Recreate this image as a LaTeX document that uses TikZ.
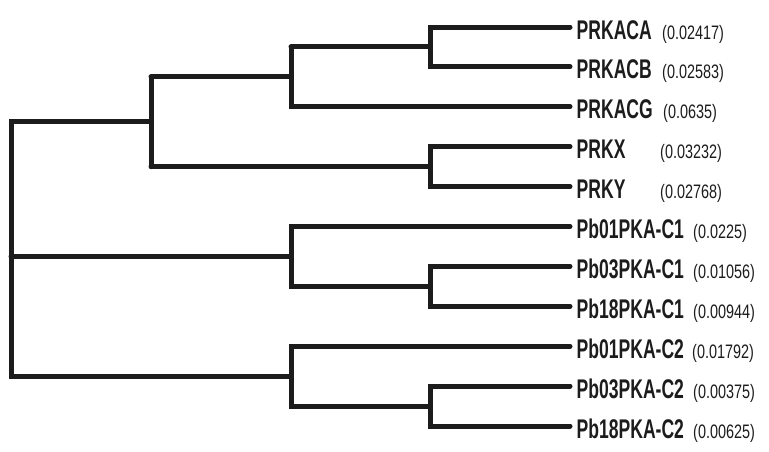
\documentclass[tikz,border=0pt]{standalone}
\usepackage{fontspec}
\newfontfamily\namefont[FakeStretch=0.65]{Liberation Sans Bold}
\newfontfamily\valfont[FakeStretch=0.74]{Liberation Sans}
\definecolor{ink}{HTML}{1C1C1C}
\begin{document}
\begin{tikzpicture}[x=1pt,y=-1pt,
  branch/.style={draw=ink,line width=5pt,line cap=round,line join=miter},
  leafname/.style={anchor=base west,inner sep=0pt,text=ink,font=\namefont\fontsize{27}{30}\selectfont},
  leafval/.style={anchor=base west,inner sep=0pt,text=ink,font=\valfont\fontsize{19.5}{22}\selectfont}]
\useasboundingbox (0,0) rectangle (769,451);
% leaf line ends
\foreach \n/\y in {e1/27,e2/66.9,e3/106.8,e4/146.7,e5/186.6,e6/226.5,e7/266.4,e8/306.3,e9/346.2,e10/386.1,e11/426}
  \coordinate (\n) at (570,\y);
% internal nodes
\coordinate (a) at (430,46.95);
\coordinate (b) at (291,76.9);
\coordinate (c) at (430,166.65);
\coordinate (d) at (151,121.8);
\coordinate (e) at (430,286.35);
\coordinate (f) at (291,256.4);
\coordinate (g) at (430,406.05);
\coordinate (h) at (291,376.1);
\coordinate (r) at (11,256.4);
% labels
\node[leafname] (PRKACA) at (576.5,39) {PRKACA};
\node[leafname] (PRKACB) at (576.5,78.9) {PRKACB};
\node[leafname] (PRKACG) at (576.5,118.8) {PRKACG};
\node[leafname] (PRKX) at (576.5,158.7) {PRKX};
\node[leafname] (PRKY) at (576.5,198.6) {PRKY};
\node[leafname] (Pb01C1) at (576.5,238.5) {Pb01PKA-C1};
\node[leafname] (Pb03C1) at (576.5,278.4) {Pb03PKA-C1};
\node[leafname] (Pb18C1) at (576.5,318.3) {Pb18PKA-C1};
\node[leafname] (Pb01C2) at (576.5,358.2) {Pb01PKA-C2};
\node[leafname] (Pb03C2) at (576.5,398.1) {Pb03PKA-C2};
\node[leafname] (Pb18C2) at (576.5,438) {Pb18PKA-C2};
\node[leafval] (vPRKACA) at (662,39) {(0.02417)};
\node[leafval] (vPRKACB) at (662,78.9) {(0.02583)};
\node[leafval] (vPRKACG) at (663,118.8) {(0.0635)};
\node[leafval] (vPRKX) at (660,158.7) {(0.03232)};
\node[leafval] (vPRKY) at (660,198.6) {(0.02768)};
\node[leafval] (vPb01C1) at (693,238.5) {(0.0225)};
\node[leafval] (vPb03C1) at (693,278.4) {(0.01056)};
\node[leafval] (vPb18C1) at (693,318.3) {(0.00944)};
\node[leafval] (vPb01C2) at (692,358.2) {(0.01792)};
\node[leafval] (vPb03C2) at (693,398.1) {(0.00375)};
\node[leafval] (vPb18C2) at (693,438) {(0.00625)};
% tree
\path[branch] (e1) -- (e1 -| a) -- (e2 -| a) -- (e2);
\path[branch] (b |- a) -- (a);
\path[branch] (b |- a) -- (b |- e3) -- (e3);
\path[branch] (d |- b) -- (b);
\path[branch] (e4) -- (e4 -| c) -- (e5 -| c) -- (e5);
\path[branch] (d |- c) -- (c);
\path[branch] (d |- b) -- (d |- c);
\path[branch] (d) -- (r |- d) -- (r |- h) -- (h);
\path[branch] (r) -- (f);
\path[branch] (e6) -- (e6 -| f) -- (f |- e) -- (e);
\path[branch] (e7) -- (e7 -| e) -- (e8 -| e) -- (e8);
\path[branch] (e9) -- (e9 -| h) -- (h |- g) -- (g);
\path[branch] (e10) -- (e10 -| g) -- (e11 -| g) -- (e11);
\end{tikzpicture}
\end{document}
